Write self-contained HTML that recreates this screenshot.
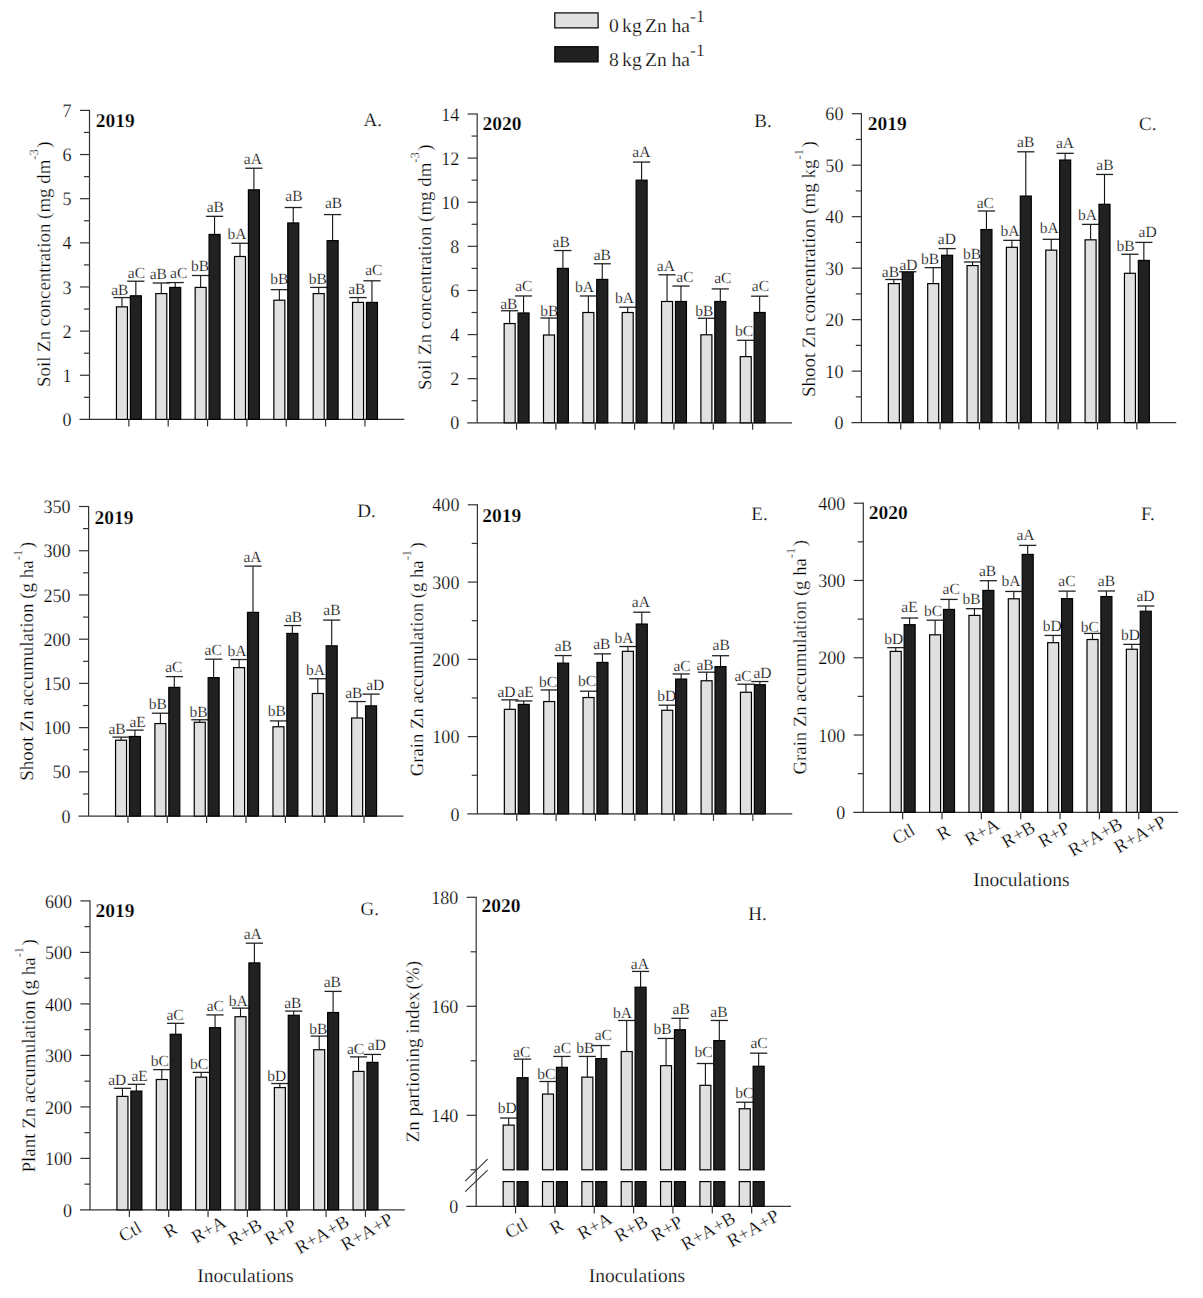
<!DOCTYPE html>
<html><head><meta charset="utf-8"><style>
html,body{margin:0;padding:0;background:#fff;}
body{width:1203px;height:1298px;overflow:hidden;}
svg{display:block;}
text{font-family:'Liberation Serif', serif;fill:#000;text-rendering:geometricPrecision;stroke:#fff;stroke-width:0.25px;paint-order:fill stroke;}
</style></head><body>
<svg width="1203" height="1298" viewBox="0 0 1203 1298">
<line x1="89.5" y1="109.8" x2="89.5" y2="419.4" stroke="#333" stroke-width="1.2"/>
<line x1="79.5" y1="419.4" x2="404.3" y2="419.4" stroke="#333" stroke-width="1.2"/>
<text transform="translate(71.5,426) scale(0.95,1)" text-anchor="end" font-size="19">0</text>
<line x1="83.9" y1="397.33" x2="89.5" y2="397.33" stroke="#333" stroke-width="1.2"/>
<line x1="79.9" y1="375.26" x2="89.5" y2="375.26" stroke="#333" stroke-width="1.2"/>
<text transform="translate(71.5,381.86) scale(0.95,1)" text-anchor="end" font-size="19">1</text>
<line x1="83.9" y1="353.19" x2="89.5" y2="353.19" stroke="#333" stroke-width="1.2"/>
<line x1="79.9" y1="331.11" x2="89.5" y2="331.11" stroke="#333" stroke-width="1.2"/>
<text transform="translate(71.5,337.71) scale(0.95,1)" text-anchor="end" font-size="19">2</text>
<line x1="83.9" y1="309.04" x2="89.5" y2="309.04" stroke="#333" stroke-width="1.2"/>
<line x1="79.9" y1="286.97" x2="89.5" y2="286.97" stroke="#333" stroke-width="1.2"/>
<text transform="translate(71.5,293.57) scale(0.95,1)" text-anchor="end" font-size="19">3</text>
<line x1="83.9" y1="264.9" x2="89.5" y2="264.9" stroke="#333" stroke-width="1.2"/>
<line x1="79.9" y1="242.83" x2="89.5" y2="242.83" stroke="#333" stroke-width="1.2"/>
<text transform="translate(71.5,249.43) scale(0.95,1)" text-anchor="end" font-size="19">4</text>
<line x1="83.9" y1="220.76" x2="89.5" y2="220.76" stroke="#333" stroke-width="1.2"/>
<line x1="79.9" y1="198.69" x2="89.5" y2="198.69" stroke="#333" stroke-width="1.2"/>
<text transform="translate(71.5,205.29) scale(0.95,1)" text-anchor="end" font-size="19">5</text>
<line x1="83.9" y1="176.61" x2="89.5" y2="176.61" stroke="#333" stroke-width="1.2"/>
<line x1="79.9" y1="154.54" x2="89.5" y2="154.54" stroke="#333" stroke-width="1.2"/>
<text transform="translate(71.5,161.14) scale(0.95,1)" text-anchor="end" font-size="19">6</text>
<line x1="83.9" y1="132.47" x2="89.5" y2="132.47" stroke="#333" stroke-width="1.2"/>
<line x1="79.9" y1="110.4" x2="89.5" y2="110.4" stroke="#333" stroke-width="1.2"/>
<text transform="translate(71.5,117) scale(0.95,1)" text-anchor="end" font-size="19">7</text>
<line x1="128.85" y1="419.4" x2="128.85" y2="426.4" stroke="#333" stroke-width="1.2"/>
<line x1="168.2" y1="419.4" x2="168.2" y2="426.4" stroke="#333" stroke-width="1.2"/>
<line x1="207.55" y1="419.4" x2="207.55" y2="426.4" stroke="#333" stroke-width="1.2"/>
<line x1="246.9" y1="419.4" x2="246.9" y2="426.4" stroke="#333" stroke-width="1.2"/>
<line x1="286.25" y1="419.4" x2="286.25" y2="426.4" stroke="#333" stroke-width="1.2"/>
<line x1="325.6" y1="419.4" x2="325.6" y2="426.4" stroke="#333" stroke-width="1.2"/>
<line x1="364.95" y1="419.4" x2="364.95" y2="426.4" stroke="#333" stroke-width="1.2"/>
<rect x="116.45" y="306.84" width="11.0" height="112.56" fill="#e0e0e0" stroke="#000" stroke-width="1.2"/><line x1="121.95" y1="306.84" x2="121.95" y2="297.57" stroke="#111" stroke-width="1.1"/><line x1="113.35" y1="297.57" x2="130.55" y2="297.57" stroke="#222" stroke-width="1.3"/><text x="119.85" y="294.57" text-anchor="middle" font-size="15.5">aB</text>
<rect x="155.8" y="293.59" width="11.0" height="125.81" fill="#e0e0e0" stroke="#000" stroke-width="1.2"/><line x1="161.3" y1="293.59" x2="161.3" y2="283" stroke="#111" stroke-width="1.1"/><line x1="152.7" y1="283" x2="169.9" y2="283" stroke="#222" stroke-width="1.3"/><text x="158.3" y="279" text-anchor="middle" font-size="15.5">aB</text>
<rect x="195.15" y="287.41" width="11.0" height="131.99" fill="#e0e0e0" stroke="#000" stroke-width="1.2"/><line x1="200.65" y1="287.41" x2="200.65" y2="275.49" stroke="#111" stroke-width="1.1"/><line x1="192.05" y1="275.49" x2="209.25" y2="275.49" stroke="#222" stroke-width="1.3"/><text x="200.15" y="270.69" text-anchor="middle" font-size="15.5">bB</text>
<rect x="234.5" y="256.51" width="11.0" height="162.89" fill="#e0e0e0" stroke="#000" stroke-width="1.2"/><line x1="240" y1="256.51" x2="240" y2="243.27" stroke="#111" stroke-width="1.1"/><line x1="231.4" y1="243.27" x2="248.6" y2="243.27" stroke="#222" stroke-width="1.3"/><text x="237.1" y="239.27" text-anchor="middle" font-size="15.5">bA</text>
<rect x="273.85" y="300.21" width="11.0" height="119.19" fill="#e0e0e0" stroke="#000" stroke-width="1.2"/><line x1="279.35" y1="300.21" x2="279.35" y2="289.62" stroke="#111" stroke-width="1.1"/><line x1="270.75" y1="289.62" x2="287.95" y2="289.62" stroke="#222" stroke-width="1.3"/><text x="279.35" y="284.22" text-anchor="middle" font-size="15.5">bB</text>
<rect x="313.2" y="293.59" width="11.0" height="125.81" fill="#e0e0e0" stroke="#000" stroke-width="1.2"/><line x1="318.7" y1="293.59" x2="318.7" y2="287.41" stroke="#111" stroke-width="1.1"/><line x1="310.1" y1="287.41" x2="327.3" y2="287.41" stroke="#222" stroke-width="1.3"/><text x="317.8" y="284.11" text-anchor="middle" font-size="15.5">bB</text>
<rect x="352.55" y="302.42" width="11.0" height="116.98" fill="#e0e0e0" stroke="#000" stroke-width="1.2"/><line x1="358.05" y1="302.42" x2="358.05" y2="297.57" stroke="#111" stroke-width="1.1"/><line x1="349.45" y1="297.57" x2="366.65" y2="297.57" stroke="#222" stroke-width="1.3"/><text x="356.85" y="293.57" text-anchor="middle" font-size="15.5">aB</text>
<rect x="130.35" y="295.8" width="11.0" height="123.6" fill="#212121" stroke="#000" stroke-width="1.2"/><line x1="135.85" y1="295.8" x2="135.85" y2="281.23" stroke="#111" stroke-width="1.1"/><line x1="127.25" y1="281.23" x2="144.45" y2="281.23" stroke="#222" stroke-width="1.3"/><text x="136.45" y="278.43" text-anchor="middle" font-size="15.5">aC</text>
<rect x="169.7" y="287.41" width="11.0" height="131.99" fill="#212121" stroke="#000" stroke-width="1.2"/><line x1="175.2" y1="287.41" x2="175.2" y2="282.56" stroke="#111" stroke-width="1.1"/><line x1="166.6" y1="282.56" x2="183.8" y2="282.56" stroke="#222" stroke-width="1.3"/><text x="178.7" y="277.76" text-anchor="middle" font-size="15.5">aC</text>
<rect x="209.05" y="234.44" width="11.0" height="184.96" fill="#212121" stroke="#000" stroke-width="1.2"/><line x1="214.55" y1="234.44" x2="214.55" y2="216.34" stroke="#111" stroke-width="1.1"/><line x1="205.95" y1="216.34" x2="223.15" y2="216.34" stroke="#222" stroke-width="1.3"/><text x="215.25" y="212.34" text-anchor="middle" font-size="15.5">aB</text>
<rect x="248.4" y="189.86" width="11.0" height="229.54" fill="#212121" stroke="#000" stroke-width="1.2"/><line x1="253.9" y1="189.86" x2="253.9" y2="168.23" stroke="#111" stroke-width="1.1"/><line x1="245.3" y1="168.23" x2="262.5" y2="168.23" stroke="#222" stroke-width="1.3"/><text x="252.9" y="164.23" text-anchor="middle" font-size="15.5">aA</text>
<rect x="287.75" y="222.96" width="11.0" height="196.44" fill="#212121" stroke="#000" stroke-width="1.2"/><line x1="293.25" y1="222.96" x2="293.25" y2="207.51" stroke="#111" stroke-width="1.1"/><line x1="284.65" y1="207.51" x2="301.85" y2="207.51" stroke="#222" stroke-width="1.3"/><text x="293.95" y="200.71" text-anchor="middle" font-size="15.5">aB</text>
<rect x="327.1" y="240.62" width="11.0" height="178.78" fill="#212121" stroke="#000" stroke-width="1.2"/><line x1="332.6" y1="240.62" x2="332.6" y2="214.58" stroke="#111" stroke-width="1.1"/><line x1="324" y1="214.58" x2="341.2" y2="214.58" stroke="#222" stroke-width="1.3"/><text x="333.5" y="208.18" text-anchor="middle" font-size="15.5">aB</text>
<rect x="366.45" y="302.42" width="11.0" height="116.98" fill="#212121" stroke="#000" stroke-width="1.2"/><line x1="371.95" y1="302.42" x2="371.95" y2="280.79" stroke="#111" stroke-width="1.1"/><line x1="363.35" y1="280.79" x2="380.55" y2="280.79" stroke="#222" stroke-width="1.3"/><text x="373.85" y="274.69" text-anchor="middle" font-size="15.5">aC</text>
<text x="95.7" y="126.8" font-weight="bold" font-size="19.5">2019</text>
<text x="363.6" y="126.2" font-size="19">A.</text>
<text transform="translate(50.0,387.0) rotate(-90)" x="0" y="0" font-size="18.88">Soil Zn concentration (mg dm<tspan font-size="12.5" dy="-11.7">-3</tspan><tspan dx="1.5" dy="11.7">)</tspan></text>
<line x1="477.2" y1="113.4" x2="477.2" y2="422.8" stroke="#333" stroke-width="1.2"/>
<line x1="467.2" y1="422.8" x2="792" y2="422.8" stroke="#333" stroke-width="1.2"/>
<text transform="translate(459.2,429.4) scale(0.95,1)" text-anchor="end" font-size="19">0</text>
<line x1="471.6" y1="400.74" x2="477.2" y2="400.74" stroke="#333" stroke-width="1.2"/>
<line x1="467.6" y1="378.69" x2="477.2" y2="378.69" stroke="#333" stroke-width="1.2"/>
<text transform="translate(459.2,385.29) scale(0.95,1)" text-anchor="end" font-size="19">2</text>
<line x1="471.6" y1="356.63" x2="477.2" y2="356.63" stroke="#333" stroke-width="1.2"/>
<line x1="467.6" y1="334.57" x2="477.2" y2="334.57" stroke="#333" stroke-width="1.2"/>
<text transform="translate(459.2,341.17) scale(0.95,1)" text-anchor="end" font-size="19">4</text>
<line x1="471.6" y1="312.51" x2="477.2" y2="312.51" stroke="#333" stroke-width="1.2"/>
<line x1="467.6" y1="290.46" x2="477.2" y2="290.46" stroke="#333" stroke-width="1.2"/>
<text transform="translate(459.2,297.06) scale(0.95,1)" text-anchor="end" font-size="19">6</text>
<line x1="471.6" y1="268.4" x2="477.2" y2="268.4" stroke="#333" stroke-width="1.2"/>
<line x1="467.6" y1="246.34" x2="477.2" y2="246.34" stroke="#333" stroke-width="1.2"/>
<text transform="translate(459.2,252.94) scale(0.95,1)" text-anchor="end" font-size="19">8</text>
<line x1="471.6" y1="224.29" x2="477.2" y2="224.29" stroke="#333" stroke-width="1.2"/>
<line x1="467.6" y1="202.23" x2="477.2" y2="202.23" stroke="#333" stroke-width="1.2"/>
<text transform="translate(459.2,208.83) scale(0.95,1)" text-anchor="end" font-size="19">10</text>
<line x1="471.6" y1="180.17" x2="477.2" y2="180.17" stroke="#333" stroke-width="1.2"/>
<line x1="467.6" y1="158.11" x2="477.2" y2="158.11" stroke="#333" stroke-width="1.2"/>
<text transform="translate(459.2,164.71) scale(0.95,1)" text-anchor="end" font-size="19">12</text>
<line x1="471.6" y1="136.06" x2="477.2" y2="136.06" stroke="#333" stroke-width="1.2"/>
<line x1="467.6" y1="114" x2="477.2" y2="114" stroke="#333" stroke-width="1.2"/>
<text transform="translate(459.2,120.6) scale(0.95,1)" text-anchor="end" font-size="19">14</text>
<line x1="516.55" y1="422.8" x2="516.55" y2="429.8" stroke="#333" stroke-width="1.2"/>
<line x1="555.9" y1="422.8" x2="555.9" y2="429.8" stroke="#333" stroke-width="1.2"/>
<line x1="595.25" y1="422.8" x2="595.25" y2="429.8" stroke="#333" stroke-width="1.2"/>
<line x1="634.6" y1="422.8" x2="634.6" y2="429.8" stroke="#333" stroke-width="1.2"/>
<line x1="673.95" y1="422.8" x2="673.95" y2="429.8" stroke="#333" stroke-width="1.2"/>
<line x1="713.3" y1="422.8" x2="713.3" y2="429.8" stroke="#333" stroke-width="1.2"/>
<line x1="752.65" y1="422.8" x2="752.65" y2="429.8" stroke="#333" stroke-width="1.2"/>
<rect x="504.15" y="323.54" width="11.0" height="99.26" fill="#e0e0e0" stroke="#000" stroke-width="1.2"/><line x1="509.65" y1="323.54" x2="509.65" y2="310.75" stroke="#111" stroke-width="1.1"/><line x1="501.05" y1="310.75" x2="518.25" y2="310.75" stroke="#222" stroke-width="1.3"/><text x="508.75" y="309.25" text-anchor="middle" font-size="15.5">aB</text>
<rect x="543.5" y="335.01" width="11.0" height="87.79" fill="#e0e0e0" stroke="#000" stroke-width="1.2"/><line x1="549" y1="335.01" x2="549" y2="318.03" stroke="#111" stroke-width="1.1"/><line x1="540.4" y1="318.03" x2="557.6" y2="318.03" stroke="#222" stroke-width="1.3"/><text x="549.4" y="316.23" text-anchor="middle" font-size="15.5">bB</text>
<rect x="582.85" y="312.51" width="11.0" height="110.29" fill="#e0e0e0" stroke="#000" stroke-width="1.2"/><line x1="588.35" y1="312.51" x2="588.35" y2="295.97" stroke="#111" stroke-width="1.1"/><line x1="579.75" y1="295.97" x2="596.95" y2="295.97" stroke="#222" stroke-width="1.3"/><text x="584.55" y="291.97" text-anchor="middle" font-size="15.5">bA</text>
<rect x="622.2" y="312.51" width="11.0" height="110.29" fill="#e0e0e0" stroke="#000" stroke-width="1.2"/><line x1="627.7" y1="312.51" x2="627.7" y2="307.22" stroke="#111" stroke-width="1.1"/><line x1="619.1" y1="307.22" x2="636.3" y2="307.22" stroke="#222" stroke-width="1.3"/><text x="624.6" y="303.22" text-anchor="middle" font-size="15.5">bA</text>
<rect x="661.55" y="301.49" width="11.0" height="121.31" fill="#e0e0e0" stroke="#000" stroke-width="1.2"/><line x1="667.05" y1="301.49" x2="667.05" y2="274.8" stroke="#111" stroke-width="1.1"/><line x1="658.45" y1="274.8" x2="675.65" y2="274.8" stroke="#222" stroke-width="1.3"/><text x="665.85" y="270.8" text-anchor="middle" font-size="15.5">aA</text>
<rect x="700.9" y="334.79" width="11.0" height="88.01" fill="#e0e0e0" stroke="#000" stroke-width="1.2"/><line x1="706.4" y1="334.79" x2="706.4" y2="318.25" stroke="#111" stroke-width="1.1"/><line x1="697.8" y1="318.25" x2="715" y2="318.25" stroke="#222" stroke-width="1.3"/><text x="704.2" y="316.45" text-anchor="middle" font-size="15.5">bB</text>
<rect x="740.25" y="356.63" width="11.0" height="66.17" fill="#e0e0e0" stroke="#000" stroke-width="1.2"/><line x1="745.75" y1="356.63" x2="745.75" y2="340.31" stroke="#111" stroke-width="1.1"/><line x1="737.15" y1="340.31" x2="754.35" y2="340.31" stroke="#222" stroke-width="1.3"/><text x="744.05" y="336.31" text-anchor="middle" font-size="15.5">bC</text>
<rect x="518.05" y="312.96" width="11.0" height="109.84" fill="#212121" stroke="#000" stroke-width="1.2"/><line x1="523.55" y1="312.96" x2="523.55" y2="295.97" stroke="#111" stroke-width="1.1"/><line x1="514.95" y1="295.97" x2="532.15" y2="295.97" stroke="#222" stroke-width="1.3"/><text x="523.75" y="291.47" text-anchor="middle" font-size="15.5">aC</text>
<rect x="557.4" y="268.4" width="11.0" height="154.4" fill="#212121" stroke="#000" stroke-width="1.2"/><line x1="562.9" y1="268.4" x2="562.9" y2="250.53" stroke="#111" stroke-width="1.1"/><line x1="554.3" y1="250.53" x2="571.5" y2="250.53" stroke="#222" stroke-width="1.3"/><text x="561.2" y="246.53" text-anchor="middle" font-size="15.5">aB</text>
<rect x="596.75" y="279.43" width="11.0" height="143.37" fill="#212121" stroke="#000" stroke-width="1.2"/><line x1="602.25" y1="279.43" x2="602.25" y2="263.77" stroke="#111" stroke-width="1.1"/><line x1="593.65" y1="263.77" x2="610.85" y2="263.77" stroke="#222" stroke-width="1.3"/><text x="602.35" y="259.77" text-anchor="middle" font-size="15.5">aB</text>
<rect x="636.1" y="180.17" width="11.0" height="242.63" fill="#212121" stroke="#000" stroke-width="1.2"/><line x1="641.6" y1="180.17" x2="641.6" y2="162.08" stroke="#111" stroke-width="1.1"/><line x1="633" y1="162.08" x2="650.2" y2="162.08" stroke="#222" stroke-width="1.3"/><text x="641.4" y="157.08" text-anchor="middle" font-size="15.5">aA</text>
<rect x="675.45" y="301.49" width="11.0" height="121.31" fill="#212121" stroke="#000" stroke-width="1.2"/><line x1="680.95" y1="301.49" x2="680.95" y2="286.05" stroke="#111" stroke-width="1.1"/><line x1="672.35" y1="286.05" x2="689.55" y2="286.05" stroke="#222" stroke-width="1.3"/><text x="684.95" y="282.05" text-anchor="middle" font-size="15.5">aC</text>
<rect x="714.8" y="301.49" width="11.0" height="121.31" fill="#212121" stroke="#000" stroke-width="1.2"/><line x1="720.3" y1="301.49" x2="720.3" y2="288.91" stroke="#111" stroke-width="1.1"/><line x1="711.7" y1="288.91" x2="728.9" y2="288.91" stroke="#222" stroke-width="1.3"/><text x="722.8" y="283.01" text-anchor="middle" font-size="15.5">aC</text>
<rect x="754.15" y="312.51" width="11.0" height="110.29" fill="#212121" stroke="#000" stroke-width="1.2"/><line x1="759.65" y1="312.51" x2="759.65" y2="296.19" stroke="#111" stroke-width="1.1"/><line x1="751.05" y1="296.19" x2="768.25" y2="296.19" stroke="#222" stroke-width="1.3"/><text x="760.45" y="290.69" text-anchor="middle" font-size="15.5">aC</text>
<text x="482.4" y="130.3" font-weight="bold" font-size="19.5">2020</text>
<text x="754.3000000000001" y="126.9" font-size="19">B.</text>
<text transform="translate(430.7,390.0) rotate(-90)" x="0" y="0" font-size="18.88">Soil Zn concentration (mg dm<tspan font-size="12.5" dy="-11.7">-3</tspan><tspan dx="1.5" dy="11.7">)</tspan></text>
<line x1="861.4" y1="113.1" x2="861.4" y2="422.6" stroke="#333" stroke-width="1.2"/>
<line x1="851.4" y1="422.6" x2="1176.2" y2="422.6" stroke="#333" stroke-width="1.2"/>
<text transform="translate(843.4,429.2) scale(0.95,1)" text-anchor="end" font-size="19">0</text>
<line x1="855.8" y1="396.86" x2="861.4" y2="396.86" stroke="#333" stroke-width="1.2"/>
<line x1="851.8" y1="371.12" x2="861.4" y2="371.12" stroke="#333" stroke-width="1.2"/>
<text transform="translate(843.4,377.72) scale(0.95,1)" text-anchor="end" font-size="19">10</text>
<line x1="855.8" y1="345.38" x2="861.4" y2="345.38" stroke="#333" stroke-width="1.2"/>
<line x1="851.8" y1="319.63" x2="861.4" y2="319.63" stroke="#333" stroke-width="1.2"/>
<text transform="translate(843.4,326.23) scale(0.95,1)" text-anchor="end" font-size="19">20</text>
<line x1="855.8" y1="293.89" x2="861.4" y2="293.89" stroke="#333" stroke-width="1.2"/>
<line x1="851.8" y1="268.15" x2="861.4" y2="268.15" stroke="#333" stroke-width="1.2"/>
<text transform="translate(843.4,274.75) scale(0.95,1)" text-anchor="end" font-size="19">30</text>
<line x1="855.8" y1="242.41" x2="861.4" y2="242.41" stroke="#333" stroke-width="1.2"/>
<line x1="851.8" y1="216.67" x2="861.4" y2="216.67" stroke="#333" stroke-width="1.2"/>
<text transform="translate(843.4,223.27) scale(0.95,1)" text-anchor="end" font-size="19">40</text>
<line x1="855.8" y1="190.92" x2="861.4" y2="190.92" stroke="#333" stroke-width="1.2"/>
<line x1="851.8" y1="165.18" x2="861.4" y2="165.18" stroke="#333" stroke-width="1.2"/>
<text transform="translate(843.4,171.78) scale(0.95,1)" text-anchor="end" font-size="19">50</text>
<line x1="855.8" y1="139.44" x2="861.4" y2="139.44" stroke="#333" stroke-width="1.2"/>
<line x1="851.8" y1="113.7" x2="861.4" y2="113.7" stroke="#333" stroke-width="1.2"/>
<text transform="translate(843.4,120.3) scale(0.95,1)" text-anchor="end" font-size="19">60</text>
<line x1="900.75" y1="422.6" x2="900.75" y2="429.6" stroke="#333" stroke-width="1.2"/>
<line x1="940.1" y1="422.6" x2="940.1" y2="429.6" stroke="#333" stroke-width="1.2"/>
<line x1="979.45" y1="422.6" x2="979.45" y2="429.6" stroke="#333" stroke-width="1.2"/>
<line x1="1018.8" y1="422.6" x2="1018.8" y2="429.6" stroke="#333" stroke-width="1.2"/>
<line x1="1058.15" y1="422.6" x2="1058.15" y2="429.6" stroke="#333" stroke-width="1.2"/>
<line x1="1097.5" y1="422.6" x2="1097.5" y2="429.6" stroke="#333" stroke-width="1.2"/>
<line x1="1136.85" y1="422.6" x2="1136.85" y2="429.6" stroke="#333" stroke-width="1.2"/>
<rect x="888.35" y="283.6" width="11.0" height="139" fill="#e0e0e0" stroke="#000" stroke-width="1.2"/><line x1="893.85" y1="283.6" x2="893.85" y2="279.48" stroke="#111" stroke-width="1.1"/><line x1="885.25" y1="279.48" x2="902.45" y2="279.48" stroke="#222" stroke-width="1.3"/><text x="890.45" y="276.68" text-anchor="middle" font-size="15.5">aB</text>
<rect x="927.7" y="283.6" width="11.0" height="139" fill="#e0e0e0" stroke="#000" stroke-width="1.2"/><line x1="933.2" y1="283.6" x2="933.2" y2="267.64" stroke="#111" stroke-width="1.1"/><line x1="924.6" y1="267.64" x2="941.8" y2="267.64" stroke="#222" stroke-width="1.3"/><text x="930" y="263.64" text-anchor="middle" font-size="15.5">bB</text>
<rect x="967.05" y="265.58" width="11.0" height="157.02" fill="#e0e0e0" stroke="#000" stroke-width="1.2"/><line x1="972.55" y1="265.58" x2="972.55" y2="261.97" stroke="#111" stroke-width="1.1"/><line x1="963.95" y1="261.97" x2="981.15" y2="261.97" stroke="#222" stroke-width="1.3"/><text x="971.95" y="258.67" text-anchor="middle" font-size="15.5">bB</text>
<rect x="1006.4" y="247.3" width="11.0" height="175.3" fill="#e0e0e0" stroke="#000" stroke-width="1.2"/><line x1="1011.9" y1="247.3" x2="1011.9" y2="240.35" stroke="#111" stroke-width="1.1"/><line x1="1003.3" y1="240.35" x2="1020.5" y2="240.35" stroke="#222" stroke-width="1.3"/><text x="1009.9" y="235.95" text-anchor="middle" font-size="15.5">bA</text>
<rect x="1045.75" y="250.13" width="11.0" height="172.47" fill="#e0e0e0" stroke="#000" stroke-width="1.2"/><line x1="1051.25" y1="250.13" x2="1051.25" y2="239.32" stroke="#111" stroke-width="1.1"/><line x1="1042.65" y1="239.32" x2="1059.85" y2="239.32" stroke="#222" stroke-width="1.3"/><text x="1049.25" y="232.52" text-anchor="middle" font-size="15.5">bA</text>
<rect x="1085.1" y="239.83" width="11.0" height="182.77" fill="#e0e0e0" stroke="#000" stroke-width="1.2"/><line x1="1090.6" y1="239.83" x2="1090.6" y2="224.39" stroke="#111" stroke-width="1.1"/><line x1="1082" y1="224.39" x2="1099.2" y2="224.39" stroke="#222" stroke-width="1.3"/><text x="1087.6" y="220.39" text-anchor="middle" font-size="15.5">bA</text>
<rect x="1124.45" y="273.3" width="11.0" height="149.3" fill="#e0e0e0" stroke="#000" stroke-width="1.2"/><line x1="1129.95" y1="273.3" x2="1129.95" y2="254.25" stroke="#111" stroke-width="1.1"/><line x1="1121.35" y1="254.25" x2="1138.55" y2="254.25" stroke="#222" stroke-width="1.3"/><text x="1125.65" y="250.95" text-anchor="middle" font-size="15.5">bB</text>
<rect x="902.25" y="272.27" width="11.0" height="150.33" fill="#212121" stroke="#000" stroke-width="1.2"/><line x1="907.75" y1="272.27" x2="907.75" y2="271.75" stroke="#111" stroke-width="1.1"/><line x1="899.15" y1="271.75" x2="916.35" y2="271.75" stroke="#222" stroke-width="1.3"/><text x="908.45" y="269.55" text-anchor="middle" font-size="15.5">aD</text>
<rect x="941.6" y="255.28" width="11.0" height="167.32" fill="#212121" stroke="#000" stroke-width="1.2"/><line x1="947.1" y1="255.28" x2="947.1" y2="248.59" stroke="#111" stroke-width="1.1"/><line x1="938.5" y1="248.59" x2="955.7" y2="248.59" stroke="#222" stroke-width="1.3"/><text x="946.8" y="243.89" text-anchor="middle" font-size="15.5">aD</text>
<rect x="980.95" y="229.54" width="11.0" height="193.06" fill="#212121" stroke="#000" stroke-width="1.2"/><line x1="986.45" y1="229.54" x2="986.45" y2="211" stroke="#111" stroke-width="1.1"/><line x1="977.85" y1="211" x2="995.05" y2="211" stroke="#222" stroke-width="1.3"/><text x="985.25" y="207.7" text-anchor="middle" font-size="15.5">aC</text>
<rect x="1020.3" y="196.07" width="11.0" height="226.53" fill="#212121" stroke="#000" stroke-width="1.2"/><line x1="1025.8" y1="196.07" x2="1025.8" y2="151.8" stroke="#111" stroke-width="1.1"/><line x1="1017.2" y1="151.8" x2="1034.4" y2="151.8" stroke="#222" stroke-width="1.3"/><text x="1025.7" y="147.3" text-anchor="middle" font-size="15.5">aB</text>
<rect x="1059.65" y="160.03" width="11.0" height="262.57" fill="#212121" stroke="#000" stroke-width="1.2"/><line x1="1065.15" y1="160.03" x2="1065.15" y2="153.34" stroke="#111" stroke-width="1.1"/><line x1="1056.55" y1="153.34" x2="1073.75" y2="153.34" stroke="#222" stroke-width="1.3"/><text x="1064.95" y="148.24" text-anchor="middle" font-size="15.5">aA</text>
<rect x="1099" y="204.31" width="11.0" height="218.29" fill="#212121" stroke="#000" stroke-width="1.2"/><line x1="1104.5" y1="204.31" x2="1104.5" y2="174.45" stroke="#111" stroke-width="1.1"/><line x1="1095.9" y1="174.45" x2="1113.1" y2="174.45" stroke="#222" stroke-width="1.3"/><text x="1104.9" y="170.05" text-anchor="middle" font-size="15.5">aB</text>
<rect x="1138.35" y="260.43" width="11.0" height="162.17" fill="#212121" stroke="#000" stroke-width="1.2"/><line x1="1143.85" y1="260.43" x2="1143.85" y2="242.41" stroke="#111" stroke-width="1.1"/><line x1="1135.25" y1="242.41" x2="1152.45" y2="242.41" stroke="#222" stroke-width="1.3"/><text x="1147.55" y="237.31" text-anchor="middle" font-size="15.5">aD</text>
<text x="867.7" y="129.9" font-weight="bold" font-size="19.5">2019</text>
<text x="1139.0" y="130.4" font-size="19">C.</text>
<text transform="translate(815.0,397.0) rotate(-90)" x="0" y="0" font-size="19">Shoot Zn concentration (mg kg<tspan font-size="12.5" dy="-11.7">-1</tspan><tspan dx="1.5" dy="11.7">)</tspan></text>
<line x1="88.6" y1="505.9" x2="88.6" y2="816.1" stroke="#333" stroke-width="1.2"/>
<line x1="78.6" y1="816.1" x2="403.4" y2="816.1" stroke="#333" stroke-width="1.2"/>
<text transform="translate(70.6,822.7) scale(0.95,1)" text-anchor="end" font-size="19">0</text>
<line x1="83" y1="793.99" x2="88.6" y2="793.99" stroke="#333" stroke-width="1.2"/>
<line x1="79" y1="771.87" x2="88.6" y2="771.87" stroke="#333" stroke-width="1.2"/>
<text transform="translate(70.6,778.47) scale(0.95,1)" text-anchor="end" font-size="19">50</text>
<line x1="83" y1="749.76" x2="88.6" y2="749.76" stroke="#333" stroke-width="1.2"/>
<line x1="79" y1="727.64" x2="88.6" y2="727.64" stroke="#333" stroke-width="1.2"/>
<text transform="translate(70.6,734.24) scale(0.95,1)" text-anchor="end" font-size="19">100</text>
<line x1="83" y1="705.53" x2="88.6" y2="705.53" stroke="#333" stroke-width="1.2"/>
<line x1="79" y1="683.41" x2="88.6" y2="683.41" stroke="#333" stroke-width="1.2"/>
<text transform="translate(70.6,690.01) scale(0.95,1)" text-anchor="end" font-size="19">150</text>
<line x1="83" y1="661.3" x2="88.6" y2="661.3" stroke="#333" stroke-width="1.2"/>
<line x1="79" y1="639.19" x2="88.6" y2="639.19" stroke="#333" stroke-width="1.2"/>
<text transform="translate(70.6,645.79) scale(0.95,1)" text-anchor="end" font-size="19">200</text>
<line x1="83" y1="617.07" x2="88.6" y2="617.07" stroke="#333" stroke-width="1.2"/>
<line x1="79" y1="594.96" x2="88.6" y2="594.96" stroke="#333" stroke-width="1.2"/>
<text transform="translate(70.6,601.56) scale(0.95,1)" text-anchor="end" font-size="19">250</text>
<line x1="83" y1="572.84" x2="88.6" y2="572.84" stroke="#333" stroke-width="1.2"/>
<line x1="79" y1="550.73" x2="88.6" y2="550.73" stroke="#333" stroke-width="1.2"/>
<text transform="translate(70.6,557.33) scale(0.95,1)" text-anchor="end" font-size="19">300</text>
<line x1="83" y1="528.61" x2="88.6" y2="528.61" stroke="#333" stroke-width="1.2"/>
<line x1="79" y1="506.5" x2="88.6" y2="506.5" stroke="#333" stroke-width="1.2"/>
<text transform="translate(70.6,513.1) scale(0.95,1)" text-anchor="end" font-size="19">350</text>
<line x1="127.95" y1="816.1" x2="127.95" y2="823.1" stroke="#333" stroke-width="1.2"/>
<line x1="167.3" y1="816.1" x2="167.3" y2="823.1" stroke="#333" stroke-width="1.2"/>
<line x1="206.65" y1="816.1" x2="206.65" y2="823.1" stroke="#333" stroke-width="1.2"/>
<line x1="246" y1="816.1" x2="246" y2="823.1" stroke="#333" stroke-width="1.2"/>
<line x1="285.35" y1="816.1" x2="285.35" y2="823.1" stroke="#333" stroke-width="1.2"/>
<line x1="324.7" y1="816.1" x2="324.7" y2="823.1" stroke="#333" stroke-width="1.2"/>
<line x1="364.05" y1="816.1" x2="364.05" y2="823.1" stroke="#333" stroke-width="1.2"/>
<rect x="115.55" y="740.2" width="11.0" height="75.9" fill="#e0e0e0" stroke="#000" stroke-width="1.2"/><line x1="121.05" y1="740.2" x2="121.05" y2="737.11" stroke="#111" stroke-width="1.1"/><line x1="112.45" y1="737.11" x2="129.65" y2="737.11" stroke="#222" stroke-width="1.3"/><text x="117.05" y="734.41" text-anchor="middle" font-size="15.5">aB</text>
<rect x="154.9" y="723.57" width="11.0" height="92.53" fill="#e0e0e0" stroke="#000" stroke-width="1.2"/><line x1="160.4" y1="723.57" x2="160.4" y2="713.22" stroke="#111" stroke-width="1.1"/><line x1="151.8" y1="713.22" x2="169" y2="713.22" stroke="#222" stroke-width="1.3"/><text x="157.8" y="709.22" text-anchor="middle" font-size="15.5">bB</text>
<rect x="194.25" y="722.25" width="11.0" height="93.85" fill="#e0e0e0" stroke="#000" stroke-width="1.2"/><line x1="199.75" y1="722.25" x2="199.75" y2="719.77" stroke="#111" stroke-width="1.1"/><line x1="191.15" y1="719.77" x2="208.35" y2="719.77" stroke="#222" stroke-width="1.3"/><text x="198.45" y="717.27" text-anchor="middle" font-size="15.5">bB</text>
<rect x="233.6" y="667.58" width="11.0" height="148.52" fill="#e0e0e0" stroke="#000" stroke-width="1.2"/><line x1="239.1" y1="667.58" x2="239.1" y2="659.53" stroke="#111" stroke-width="1.1"/><line x1="230.5" y1="659.53" x2="247.7" y2="659.53" stroke="#222" stroke-width="1.3"/><text x="237" y="656.23" text-anchor="middle" font-size="15.5">bA</text>
<rect x="272.95" y="726.76" width="11.0" height="89.34" fill="#e0e0e0" stroke="#000" stroke-width="1.2"/><line x1="278.45" y1="726.76" x2="278.45" y2="720.92" stroke="#111" stroke-width="1.1"/><line x1="269.85" y1="720.92" x2="287.05" y2="720.92" stroke="#222" stroke-width="1.3"/><text x="276.85" y="716.02" text-anchor="middle" font-size="15.5">bB</text>
<rect x="312.3" y="693.5" width="11.0" height="122.6" fill="#e0e0e0" stroke="#000" stroke-width="1.2"/><line x1="317.8" y1="693.5" x2="317.8" y2="678.73" stroke="#111" stroke-width="1.1"/><line x1="309.2" y1="678.73" x2="326.4" y2="678.73" stroke="#222" stroke-width="1.3"/><text x="315.5" y="674.73" text-anchor="middle" font-size="15.5">bA</text>
<rect x="351.65" y="718" width="11.0" height="98.1" fill="#e0e0e0" stroke="#000" stroke-width="1.2"/><line x1="357.15" y1="718" x2="357.15" y2="701.55" stroke="#111" stroke-width="1.1"/><line x1="348.55" y1="701.55" x2="365.75" y2="701.55" stroke="#222" stroke-width="1.3"/><text x="353.75" y="697.55" text-anchor="middle" font-size="15.5">aB</text>
<rect x="129.45" y="736.49" width="11.0" height="79.61" fill="#212121" stroke="#000" stroke-width="1.2"/><line x1="134.95" y1="736.49" x2="134.95" y2="730.12" stroke="#111" stroke-width="1.1"/><line x1="126.35" y1="730.12" x2="143.55" y2="730.12" stroke="#222" stroke-width="1.3"/><text x="137.65" y="727.42" text-anchor="middle" font-size="15.5">aE</text>
<rect x="168.8" y="687.39" width="11.0" height="128.71" fill="#212121" stroke="#000" stroke-width="1.2"/><line x1="174.3" y1="687.39" x2="174.3" y2="676.6" stroke="#111" stroke-width="1.1"/><line x1="165.7" y1="676.6" x2="182.9" y2="676.6" stroke="#222" stroke-width="1.3"/><text x="173.8" y="671.5" text-anchor="middle" font-size="15.5">aC</text>
<rect x="208.15" y="677.66" width="11.0" height="138.44" fill="#212121" stroke="#000" stroke-width="1.2"/><line x1="213.65" y1="677.66" x2="213.65" y2="659.18" stroke="#111" stroke-width="1.1"/><line x1="205.05" y1="659.18" x2="222.25" y2="659.18" stroke="#222" stroke-width="1.3"/><text x="213.15" y="654.78" text-anchor="middle" font-size="15.5">aC</text>
<rect x="247.5" y="612.38" width="11.0" height="203.72" fill="#212121" stroke="#000" stroke-width="1.2"/><line x1="253" y1="612.38" x2="253" y2="566.12" stroke="#111" stroke-width="1.1"/><line x1="244.4" y1="566.12" x2="261.6" y2="566.12" stroke="#222" stroke-width="1.3"/><text x="252.5" y="561.72" text-anchor="middle" font-size="15.5">aA</text>
<rect x="286.85" y="633.44" width="11.0" height="182.66" fill="#212121" stroke="#000" stroke-width="1.2"/><line x1="292.35" y1="633.44" x2="292.35" y2="625.56" stroke="#111" stroke-width="1.1"/><line x1="283.75" y1="625.56" x2="300.95" y2="625.56" stroke="#222" stroke-width="1.3"/><text x="293.55" y="621.56" text-anchor="middle" font-size="15.5">aB</text>
<rect x="326.2" y="645.82" width="11.0" height="170.28" fill="#212121" stroke="#000" stroke-width="1.2"/><line x1="331.7" y1="645.82" x2="331.7" y2="620.08" stroke="#111" stroke-width="1.1"/><line x1="323.1" y1="620.08" x2="340.3" y2="620.08" stroke="#222" stroke-width="1.3"/><text x="331.9" y="615.18" text-anchor="middle" font-size="15.5">aB</text>
<rect x="365.55" y="705.88" width="11.0" height="110.22" fill="#212121" stroke="#000" stroke-width="1.2"/><line x1="371.05" y1="705.88" x2="371.05" y2="694.12" stroke="#111" stroke-width="1.1"/><line x1="362.45" y1="694.12" x2="379.65" y2="694.12" stroke="#222" stroke-width="1.3"/><text x="375.25" y="690.12" text-anchor="middle" font-size="15.5">aD</text>
<text x="94.4" y="523.9" font-weight="bold" font-size="19.5">2019</text>
<text x="357.3" y="516.9" font-size="19">D.</text>
<text transform="translate(33.4,780.8) rotate(-90)" x="0" y="0" font-size="19">Shoot Zn accumulation (g ha<tspan font-size="12.5" dy="-11.7">-1</tspan><tspan dx="1.5" dy="11.7">)</tspan></text>
<line x1="477.4" y1="504.2" x2="477.4" y2="813.9" stroke="#333" stroke-width="1.2"/>
<line x1="467.4" y1="813.9" x2="792.2" y2="813.9" stroke="#333" stroke-width="1.2"/>
<text transform="translate(459.4,820.5) scale(0.95,1)" text-anchor="end" font-size="19">0</text>
<line x1="471.8" y1="775.26" x2="477.4" y2="775.26" stroke="#333" stroke-width="1.2"/>
<line x1="467.8" y1="736.62" x2="477.4" y2="736.62" stroke="#333" stroke-width="1.2"/>
<text transform="translate(459.4,743.23) scale(0.95,1)" text-anchor="end" font-size="19">100</text>
<line x1="471.8" y1="697.99" x2="477.4" y2="697.99" stroke="#333" stroke-width="1.2"/>
<line x1="467.8" y1="659.35" x2="477.4" y2="659.35" stroke="#333" stroke-width="1.2"/>
<text transform="translate(459.4,665.95) scale(0.95,1)" text-anchor="end" font-size="19">200</text>
<line x1="471.8" y1="620.71" x2="477.4" y2="620.71" stroke="#333" stroke-width="1.2"/>
<line x1="467.8" y1="582.08" x2="477.4" y2="582.08" stroke="#333" stroke-width="1.2"/>
<text transform="translate(459.4,588.68) scale(0.95,1)" text-anchor="end" font-size="19">300</text>
<line x1="471.8" y1="543.44" x2="477.4" y2="543.44" stroke="#333" stroke-width="1.2"/>
<line x1="467.8" y1="504.8" x2="477.4" y2="504.8" stroke="#333" stroke-width="1.2"/>
<text transform="translate(459.4,511.4) scale(0.95,1)" text-anchor="end" font-size="19">400</text>
<line x1="516.75" y1="813.9" x2="516.75" y2="820.9" stroke="#333" stroke-width="1.2"/>
<line x1="556.1" y1="813.9" x2="556.1" y2="820.9" stroke="#333" stroke-width="1.2"/>
<line x1="595.45" y1="813.9" x2="595.45" y2="820.9" stroke="#333" stroke-width="1.2"/>
<line x1="634.8" y1="813.9" x2="634.8" y2="820.9" stroke="#333" stroke-width="1.2"/>
<line x1="674.15" y1="813.9" x2="674.15" y2="820.9" stroke="#333" stroke-width="1.2"/>
<line x1="713.5" y1="813.9" x2="713.5" y2="820.9" stroke="#333" stroke-width="1.2"/>
<line x1="752.85" y1="813.9" x2="752.85" y2="820.9" stroke="#333" stroke-width="1.2"/>
<rect x="504.35" y="709.35" width="11.0" height="104.55" fill="#e0e0e0" stroke="#000" stroke-width="1.2"/><line x1="509.85" y1="709.35" x2="509.85" y2="699.84" stroke="#111" stroke-width="1.1"/><line x1="501.25" y1="699.84" x2="518.45" y2="699.84" stroke="#222" stroke-width="1.3"/><text x="506.45" y="696.54" text-anchor="middle" font-size="15.5">aD</text>
<rect x="543.7" y="701.54" width="11.0" height="112.36" fill="#e0e0e0" stroke="#000" stroke-width="1.2"/><line x1="549.2" y1="701.54" x2="549.2" y2="689.95" stroke="#111" stroke-width="1.1"/><line x1="540.6" y1="689.95" x2="557.8" y2="689.95" stroke="#222" stroke-width="1.3"/><text x="548.1" y="686.65" text-anchor="middle" font-size="15.5">bC</text>
<rect x="583.05" y="697.52" width="11.0" height="116.38" fill="#e0e0e0" stroke="#000" stroke-width="1.2"/><line x1="588.55" y1="697.52" x2="588.55" y2="691.19" stroke="#111" stroke-width="1.1"/><line x1="579.95" y1="691.19" x2="597.15" y2="691.19" stroke="#222" stroke-width="1.3"/><text x="587.05" y="686.49" text-anchor="middle" font-size="15.5">bC</text>
<rect x="622.4" y="651.31" width="11.0" height="162.59" fill="#e0e0e0" stroke="#000" stroke-width="1.2"/><line x1="627.9" y1="651.31" x2="627.9" y2="646.52" stroke="#111" stroke-width="1.1"/><line x1="619.3" y1="646.52" x2="636.5" y2="646.52" stroke="#222" stroke-width="1.3"/><text x="624.1" y="642.82" text-anchor="middle" font-size="15.5">bA</text>
<rect x="661.75" y="710.27" width="11.0" height="103.63" fill="#e0e0e0" stroke="#000" stroke-width="1.2"/><line x1="667.25" y1="710.27" x2="667.25" y2="705.17" stroke="#111" stroke-width="1.1"/><line x1="658.65" y1="705.17" x2="675.85" y2="705.17" stroke="#222" stroke-width="1.3"/><text x="666.85" y="700.77" text-anchor="middle" font-size="15.5">bD</text>
<rect x="701.1" y="680.76" width="11.0" height="133.14" fill="#e0e0e0" stroke="#000" stroke-width="1.2"/><line x1="706.6" y1="680.76" x2="706.6" y2="672.18" stroke="#111" stroke-width="1.1"/><line x1="698" y1="672.18" x2="715.2" y2="672.18" stroke="#222" stroke-width="1.3"/><text x="705.1" y="669.88" text-anchor="middle" font-size="15.5">aB</text>
<rect x="740.45" y="692.27" width="11.0" height="121.63" fill="#e0e0e0" stroke="#000" stroke-width="1.2"/><line x1="745.95" y1="692.27" x2="745.95" y2="684.23" stroke="#111" stroke-width="1.1"/><line x1="737.35" y1="684.23" x2="754.55" y2="684.23" stroke="#222" stroke-width="1.3"/><text x="743.05" y="680.63" text-anchor="middle" font-size="15.5">aC</text>
<rect x="518.25" y="704.4" width="11.0" height="109.5" fill="#212121" stroke="#000" stroke-width="1.2"/><line x1="523.75" y1="704.4" x2="523.75" y2="701" stroke="#111" stroke-width="1.1"/><line x1="515.15" y1="701" x2="532.35" y2="701" stroke="#222" stroke-width="1.3"/><text x="525.65" y="697" text-anchor="middle" font-size="15.5">aE</text>
<rect x="557.6" y="663.14" width="11.0" height="150.76" fill="#212121" stroke="#000" stroke-width="1.2"/><line x1="563.1" y1="663.14" x2="563.1" y2="655.56" stroke="#111" stroke-width="1.1"/><line x1="554.5" y1="655.56" x2="571.7" y2="655.56" stroke="#222" stroke-width="1.3"/><text x="563.3" y="650.86" text-anchor="middle" font-size="15.5">aB</text>
<rect x="596.95" y="662.44" width="11.0" height="151.46" fill="#212121" stroke="#000" stroke-width="1.2"/><line x1="602.45" y1="662.44" x2="602.45" y2="653.86" stroke="#111" stroke-width="1.1"/><line x1="593.85" y1="653.86" x2="611.05" y2="653.86" stroke="#222" stroke-width="1.3"/><text x="601.75" y="648.76" text-anchor="middle" font-size="15.5">aB</text>
<rect x="636.3" y="624.04" width="11.0" height="189.86" fill="#212121" stroke="#000" stroke-width="1.2"/><line x1="641.8" y1="624.04" x2="641.8" y2="612.21" stroke="#111" stroke-width="1.1"/><line x1="633.2" y1="612.21" x2="650.4" y2="612.21" stroke="#222" stroke-width="1.3"/><text x="640.8" y="607.31" text-anchor="middle" font-size="15.5">aA</text>
<rect x="675.65" y="679.06" width="11.0" height="134.84" fill="#212121" stroke="#000" stroke-width="1.2"/><line x1="681.15" y1="679.06" x2="681.15" y2="673.95" stroke="#111" stroke-width="1.1"/><line x1="672.55" y1="673.95" x2="689.75" y2="673.95" stroke="#222" stroke-width="1.3"/><text x="682.05" y="670.65" text-anchor="middle" font-size="15.5">aC</text>
<rect x="715" y="666.61" width="11.0" height="147.29" fill="#212121" stroke="#000" stroke-width="1.2"/><line x1="720.5" y1="666.61" x2="720.5" y2="655.72" stroke="#111" stroke-width="1.1"/><line x1="711.9" y1="655.72" x2="729.1" y2="655.72" stroke="#222" stroke-width="1.3"/><text x="721.2" y="650.02" text-anchor="middle" font-size="15.5">aB</text>
<rect x="754.35" y="684.7" width="11.0" height="129.2" fill="#212121" stroke="#000" stroke-width="1.2"/><line x1="759.85" y1="684.7" x2="759.85" y2="681.53" stroke="#111" stroke-width="1.1"/><line x1="751.25" y1="681.53" x2="768.45" y2="681.53" stroke="#222" stroke-width="1.3"/><text x="762.45" y="677.93" text-anchor="middle" font-size="15.5">aD</text>
<text x="482.3" y="521.7" font-weight="bold" font-size="19.5">2019</text>
<text x="751.3000000000001" y="519.7" font-size="19">E.</text>
<text transform="translate(422.6,776.2) rotate(-90)" x="0" y="0" font-size="18.7">Grain Zn accumulation (g ha<tspan font-size="12.5" dy="-11.7">-1</tspan><tspan dx="1.5" dy="11.7">)</tspan></text>
<line x1="863.3" y1="502.6" x2="863.3" y2="812.3" stroke="#333" stroke-width="1.2"/>
<line x1="853.3" y1="812.3" x2="1178.1" y2="812.3" stroke="#333" stroke-width="1.2"/>
<text transform="translate(845.3,818.9) scale(0.95,1)" text-anchor="end" font-size="19">0</text>
<line x1="857.7" y1="773.66" x2="863.3" y2="773.66" stroke="#333" stroke-width="1.2"/>
<line x1="853.7" y1="735.02" x2="863.3" y2="735.02" stroke="#333" stroke-width="1.2"/>
<text transform="translate(845.3,741.62) scale(0.95,1)" text-anchor="end" font-size="19">100</text>
<line x1="857.7" y1="696.39" x2="863.3" y2="696.39" stroke="#333" stroke-width="1.2"/>
<line x1="853.7" y1="657.75" x2="863.3" y2="657.75" stroke="#333" stroke-width="1.2"/>
<text transform="translate(845.3,664.35) scale(0.95,1)" text-anchor="end" font-size="19">200</text>
<line x1="857.7" y1="619.11" x2="863.3" y2="619.11" stroke="#333" stroke-width="1.2"/>
<line x1="853.7" y1="580.47" x2="863.3" y2="580.47" stroke="#333" stroke-width="1.2"/>
<text transform="translate(845.3,587.07) scale(0.95,1)" text-anchor="end" font-size="19">300</text>
<line x1="857.7" y1="541.84" x2="863.3" y2="541.84" stroke="#333" stroke-width="1.2"/>
<line x1="853.7" y1="503.2" x2="863.3" y2="503.2" stroke="#333" stroke-width="1.2"/>
<text transform="translate(845.3,509.8) scale(0.95,1)" text-anchor="end" font-size="19">400</text>
<line x1="902.65" y1="812.3" x2="902.65" y2="819.3" stroke="#333" stroke-width="1.2"/>
<line x1="942" y1="812.3" x2="942" y2="819.3" stroke="#333" stroke-width="1.2"/>
<line x1="981.35" y1="812.3" x2="981.35" y2="819.3" stroke="#333" stroke-width="1.2"/>
<line x1="1020.7" y1="812.3" x2="1020.7" y2="819.3" stroke="#333" stroke-width="1.2"/>
<line x1="1060.05" y1="812.3" x2="1060.05" y2="819.3" stroke="#333" stroke-width="1.2"/>
<line x1="1099.4" y1="812.3" x2="1099.4" y2="819.3" stroke="#333" stroke-width="1.2"/>
<line x1="1138.75" y1="812.3" x2="1138.75" y2="819.3" stroke="#333" stroke-width="1.2"/>
<rect x="890.25" y="651.41" width="11.0" height="160.89" fill="#e0e0e0" stroke="#000" stroke-width="1.2"/><line x1="895.75" y1="651.41" x2="895.75" y2="647.63" stroke="#111" stroke-width="1.1"/><line x1="887.15" y1="647.63" x2="904.35" y2="647.63" stroke="#222" stroke-width="1.3"/><text x="893.75" y="643.63" text-anchor="middle" font-size="15.5">bD</text>
<rect x="929.6" y="634.8" width="11.0" height="177.5" fill="#e0e0e0" stroke="#000" stroke-width="1.2"/><line x1="935.1" y1="634.8" x2="935.1" y2="620.19" stroke="#111" stroke-width="1.1"/><line x1="926.5" y1="620.19" x2="943.7" y2="620.19" stroke="#222" stroke-width="1.3"/><text x="933.1" y="616.49" text-anchor="middle" font-size="15.5">bC</text>
<rect x="968.95" y="615.4" width="11.0" height="196.9" fill="#e0e0e0" stroke="#000" stroke-width="1.2"/><line x1="974.45" y1="615.4" x2="974.45" y2="608.68" stroke="#111" stroke-width="1.1"/><line x1="965.85" y1="608.68" x2="983.05" y2="608.68" stroke="#222" stroke-width="1.3"/><text x="971.55" y="603.98" text-anchor="middle" font-size="15.5">bB</text>
<rect x="1008.3" y="598.79" width="11.0" height="213.51" fill="#e0e0e0" stroke="#000" stroke-width="1.2"/><line x1="1013.8" y1="598.79" x2="1013.8" y2="591.45" stroke="#111" stroke-width="1.1"/><line x1="1005.2" y1="591.45" x2="1022.4" y2="591.45" stroke="#222" stroke-width="1.3"/><text x="1011.1" y="586.35" text-anchor="middle" font-size="15.5">bA</text>
<rect x="1047.65" y="642.68" width="11.0" height="169.62" fill="#e0e0e0" stroke="#000" stroke-width="1.2"/><line x1="1053.15" y1="642.68" x2="1053.15" y2="635.42" stroke="#111" stroke-width="1.1"/><line x1="1044.55" y1="635.42" x2="1061.75" y2="635.42" stroke="#222" stroke-width="1.3"/><text x="1052.35" y="631.42" text-anchor="middle" font-size="15.5">bD</text>
<rect x="1087" y="639.51" width="11.0" height="172.79" fill="#e0e0e0" stroke="#000" stroke-width="1.2"/><line x1="1092.5" y1="639.51" x2="1092.5" y2="633.41" stroke="#111" stroke-width="1.1"/><line x1="1083.9" y1="633.41" x2="1101.1" y2="633.41" stroke="#222" stroke-width="1.3"/><text x="1089.8" y="631.51" text-anchor="middle" font-size="15.5">bC</text>
<rect x="1126.35" y="649.25" width="11.0" height="163.05" fill="#e0e0e0" stroke="#000" stroke-width="1.2"/><line x1="1131.85" y1="649.25" x2="1131.85" y2="644.38" stroke="#111" stroke-width="1.1"/><line x1="1123.25" y1="644.38" x2="1140.45" y2="644.38" stroke="#222" stroke-width="1.3"/><text x="1130.45" y="640.38" text-anchor="middle" font-size="15.5">bD</text>
<rect x="904.15" y="624.68" width="11.0" height="187.62" fill="#212121" stroke="#000" stroke-width="1.2"/><line x1="909.65" y1="624.68" x2="909.65" y2="618.03" stroke="#111" stroke-width="1.1"/><line x1="901.05" y1="618.03" x2="918.25" y2="618.03" stroke="#222" stroke-width="1.3"/><text x="909.55" y="612.33" text-anchor="middle" font-size="15.5">aE</text>
<rect x="943.5" y="609.45" width="11.0" height="202.85" fill="#212121" stroke="#000" stroke-width="1.2"/><line x1="949" y1="609.45" x2="949" y2="599.41" stroke="#111" stroke-width="1.1"/><line x1="940.4" y1="599.41" x2="957.6" y2="599.41" stroke="#222" stroke-width="1.3"/><text x="951.2" y="594.01" text-anchor="middle" font-size="15.5">aC</text>
<rect x="982.85" y="590.44" width="11.0" height="221.86" fill="#212121" stroke="#000" stroke-width="1.2"/><line x1="988.35" y1="590.44" x2="988.35" y2="580.71" stroke="#111" stroke-width="1.1"/><line x1="979.75" y1="580.71" x2="996.95" y2="580.71" stroke="#222" stroke-width="1.3"/><text x="987.55" y="576.01" text-anchor="middle" font-size="15.5">aB</text>
<rect x="1022.2" y="554.43" width="11.0" height="257.87" fill="#212121" stroke="#000" stroke-width="1.2"/><line x1="1027.7" y1="554.43" x2="1027.7" y2="545.39" stroke="#111" stroke-width="1.1"/><line x1="1019.1" y1="545.39" x2="1036.3" y2="545.39" stroke="#222" stroke-width="1.3"/><text x="1025.5" y="539.59" text-anchor="middle" font-size="15.5">aA</text>
<rect x="1061.55" y="598.63" width="11.0" height="213.67" fill="#212121" stroke="#000" stroke-width="1.2"/><line x1="1067.05" y1="598.63" x2="1067.05" y2="591.14" stroke="#111" stroke-width="1.1"/><line x1="1058.45" y1="591.14" x2="1075.65" y2="591.14" stroke="#222" stroke-width="1.3"/><text x="1066.95" y="586.04" text-anchor="middle" font-size="15.5">aC</text>
<rect x="1100.9" y="596.55" width="11.0" height="215.75" fill="#212121" stroke="#000" stroke-width="1.2"/><line x1="1106.4" y1="596.55" x2="1106.4" y2="590.98" stroke="#111" stroke-width="1.1"/><line x1="1097.8" y1="590.98" x2="1115" y2="590.98" stroke="#222" stroke-width="1.3"/><text x="1106.4" y="586.28" text-anchor="middle" font-size="15.5">aB</text>
<rect x="1140.25" y="611.23" width="11.0" height="201.07" fill="#212121" stroke="#000" stroke-width="1.2"/><line x1="1145.75" y1="611.23" x2="1145.75" y2="605.98" stroke="#111" stroke-width="1.1"/><line x1="1137.15" y1="605.98" x2="1154.35" y2="605.98" stroke="#222" stroke-width="1.3"/><text x="1145.45" y="600.98" text-anchor="middle" font-size="15.5">aD</text>
<text x="868.8" y="518.9" font-weight="bold" font-size="19.5">2020</text>
<text x="1141.0" y="520.4" font-size="19">F.</text>
<text transform="translate(806.3,774.4) rotate(-90)" x="0" y="0" font-size="18.73">Grain Zn accumulation (g ha<tspan font-size="12.5" dy="-11.7">-1</tspan><tspan dx="1.5" dy="11.7">)</tspan></text>
<text transform="translate(903.45,834.1) rotate(-30)" x="0" y="6" text-anchor="middle" font-size="18.5">Ctl</text>
<text transform="translate(943.6,832.6) rotate(-30)" x="0" y="6" text-anchor="middle" font-size="18.5">R</text>
<text transform="translate(981.85,832) rotate(-30)" x="0" y="6" text-anchor="middle" font-size="18.5">R+A</text>
<text transform="translate(1018.2,834.5) rotate(-30)" x="0" y="6" text-anchor="middle" font-size="18.5">R+B</text>
<text transform="translate(1053.95,834.5) rotate(-30)" x="0" y="6" text-anchor="middle" font-size="18.5">R+P</text>
<text transform="translate(1095.2,837) rotate(-30)" x="0" y="6" text-anchor="middle" font-size="18.5">R+A+B</text>
<text transform="translate(1140.15,834.3) rotate(-30)" x="0" y="6" text-anchor="middle" font-size="18.5">R+A+P</text>
<text x="973.2" y="885.5" font-size="19.5">Inoculations</text>
<line x1="90.0" y1="900.3" x2="90.0" y2="1209.9" stroke="#333" stroke-width="1.2"/>
<line x1="80" y1="1209.9" x2="404.8" y2="1209.9" stroke="#333" stroke-width="1.2"/>
<text transform="translate(72,1216.5) scale(0.95,1)" text-anchor="end" font-size="19">0</text>
<line x1="84.4" y1="1184.15" x2="90.0" y2="1184.15" stroke="#333" stroke-width="1.2"/>
<line x1="80.4" y1="1158.4" x2="90.0" y2="1158.4" stroke="#333" stroke-width="1.2"/>
<text transform="translate(72,1165) scale(0.95,1)" text-anchor="end" font-size="19">100</text>
<line x1="84.4" y1="1132.65" x2="90.0" y2="1132.65" stroke="#333" stroke-width="1.2"/>
<line x1="80.4" y1="1106.9" x2="90.0" y2="1106.9" stroke="#333" stroke-width="1.2"/>
<text transform="translate(72,1113.5) scale(0.95,1)" text-anchor="end" font-size="19">200</text>
<line x1="84.4" y1="1081.15" x2="90.0" y2="1081.15" stroke="#333" stroke-width="1.2"/>
<line x1="80.4" y1="1055.4" x2="90.0" y2="1055.4" stroke="#333" stroke-width="1.2"/>
<text transform="translate(72,1062) scale(0.95,1)" text-anchor="end" font-size="19">300</text>
<line x1="84.4" y1="1029.65" x2="90.0" y2="1029.65" stroke="#333" stroke-width="1.2"/>
<line x1="80.4" y1="1003.9" x2="90.0" y2="1003.9" stroke="#333" stroke-width="1.2"/>
<text transform="translate(72,1010.5) scale(0.95,1)" text-anchor="end" font-size="19">400</text>
<line x1="84.4" y1="978.15" x2="90.0" y2="978.15" stroke="#333" stroke-width="1.2"/>
<line x1="80.4" y1="952.4" x2="90.0" y2="952.4" stroke="#333" stroke-width="1.2"/>
<text transform="translate(72,959) scale(0.95,1)" text-anchor="end" font-size="19">500</text>
<line x1="84.4" y1="926.65" x2="90.0" y2="926.65" stroke="#333" stroke-width="1.2"/>
<line x1="80.4" y1="900.9" x2="90.0" y2="900.9" stroke="#333" stroke-width="1.2"/>
<text transform="translate(72,907.5) scale(0.95,1)" text-anchor="end" font-size="19">600</text>
<line x1="129.35" y1="1209.9" x2="129.35" y2="1216.9" stroke="#333" stroke-width="1.2"/>
<line x1="168.7" y1="1209.9" x2="168.7" y2="1216.9" stroke="#333" stroke-width="1.2"/>
<line x1="208.05" y1="1209.9" x2="208.05" y2="1216.9" stroke="#333" stroke-width="1.2"/>
<line x1="247.4" y1="1209.9" x2="247.4" y2="1216.9" stroke="#333" stroke-width="1.2"/>
<line x1="286.75" y1="1209.9" x2="286.75" y2="1216.9" stroke="#333" stroke-width="1.2"/>
<line x1="326.1" y1="1209.9" x2="326.1" y2="1216.9" stroke="#333" stroke-width="1.2"/>
<line x1="365.45" y1="1209.9" x2="365.45" y2="1216.9" stroke="#333" stroke-width="1.2"/>
<rect x="116.95" y="1096.39" width="11.0" height="113.51" fill="#e0e0e0" stroke="#000" stroke-width="1.2"/><line x1="122.45" y1="1096.39" x2="122.45" y2="1088.31" stroke="#111" stroke-width="1.1"/><line x1="113.85" y1="1088.31" x2="131.05" y2="1088.31" stroke="#222" stroke-width="1.3"/><text x="117.25" y="1085.31" text-anchor="middle" font-size="15.5">aD</text>
<rect x="156.3" y="1079.5" width="11.0" height="130.4" fill="#e0e0e0" stroke="#000" stroke-width="1.2"/><line x1="161.8" y1="1079.5" x2="161.8" y2="1069.61" stroke="#111" stroke-width="1.1"/><line x1="153.2" y1="1069.61" x2="170.4" y2="1069.61" stroke="#222" stroke-width="1.3"/><text x="159.9" y="1065.61" text-anchor="middle" font-size="15.5">bC</text>
<rect x="195.65" y="1077.18" width="11.0" height="132.72" fill="#e0e0e0" stroke="#000" stroke-width="1.2"/><line x1="201.15" y1="1077.18" x2="201.15" y2="1072.39" stroke="#111" stroke-width="1.1"/><line x1="192.55" y1="1072.39" x2="209.75" y2="1072.39" stroke="#222" stroke-width="1.3"/><text x="199.15" y="1069.49" text-anchor="middle" font-size="15.5">bC</text>
<rect x="235" y="1016.72" width="11.0" height="193.18" fill="#e0e0e0" stroke="#000" stroke-width="1.2"/><line x1="240.5" y1="1016.72" x2="240.5" y2="1008.12" stroke="#111" stroke-width="1.1"/><line x1="231.9" y1="1008.12" x2="249.1" y2="1008.12" stroke="#222" stroke-width="1.3"/><text x="238.3" y="1005.52" text-anchor="middle" font-size="15.5">bA</text>
<rect x="274.35" y="1087.59" width="11.0" height="122.31" fill="#e0e0e0" stroke="#000" stroke-width="1.2"/><line x1="279.85" y1="1087.59" x2="279.85" y2="1083.52" stroke="#111" stroke-width="1.1"/><line x1="271.25" y1="1083.52" x2="288.45" y2="1083.52" stroke="#222" stroke-width="1.3"/><text x="276.85" y="1080.92" text-anchor="middle" font-size="15.5">bD</text>
<rect x="313.7" y="1049.74" width="11.0" height="160.16" fill="#e0e0e0" stroke="#000" stroke-width="1.2"/><line x1="319.2" y1="1049.74" x2="319.2" y2="1036.09" stroke="#111" stroke-width="1.1"/><line x1="310.6" y1="1036.09" x2="327.8" y2="1036.09" stroke="#222" stroke-width="1.3"/><text x="318.2" y="1034.19" text-anchor="middle" font-size="15.5">bB</text>
<rect x="353.05" y="1071.42" width="11.0" height="138.48" fill="#e0e0e0" stroke="#000" stroke-width="1.2"/><line x1="358.55" y1="1071.42" x2="358.55" y2="1056.89" stroke="#111" stroke-width="1.1"/><line x1="349.95" y1="1056.89" x2="367.15" y2="1056.89" stroke="#222" stroke-width="1.3"/><text x="355.55" y="1053.59" text-anchor="middle" font-size="15.5">aC</text>
<rect x="130.85" y="1091.09" width="11.0" height="118.81" fill="#212121" stroke="#000" stroke-width="1.2"/><line x1="136.35" y1="1091.09" x2="136.35" y2="1084.29" stroke="#111" stroke-width="1.1"/><line x1="127.75" y1="1084.29" x2="144.95" y2="1084.29" stroke="#222" stroke-width="1.3"/><text x="139.65" y="1080.99" text-anchor="middle" font-size="15.5">aE</text>
<rect x="170.2" y="1034.29" width="11.0" height="175.62" fill="#212121" stroke="#000" stroke-width="1.2"/><line x1="175.7" y1="1034.29" x2="175.7" y2="1023.32" stroke="#111" stroke-width="1.1"/><line x1="167.1" y1="1023.32" x2="184.3" y2="1023.32" stroke="#222" stroke-width="1.3"/><text x="175" y="1020.32" text-anchor="middle" font-size="15.5">aC</text>
<rect x="209.55" y="1027.69" width="11.0" height="182.21" fill="#212121" stroke="#000" stroke-width="1.2"/><line x1="215.05" y1="1027.69" x2="215.05" y2="1014.92" stroke="#111" stroke-width="1.1"/><line x1="206.45" y1="1014.92" x2="223.65" y2="1014.92" stroke="#222" stroke-width="1.3"/><text x="215.35" y="1010.92" text-anchor="middle" font-size="15.5">aC</text>
<rect x="248.9" y="962.91" width="11.0" height="246.99" fill="#212121" stroke="#000" stroke-width="1.2"/><line x1="254.4" y1="962.91" x2="254.4" y2="943.18" stroke="#111" stroke-width="1.1"/><line x1="245.8" y1="943.18" x2="263" y2="943.18" stroke="#222" stroke-width="1.3"/><text x="252.7" y="939.18" text-anchor="middle" font-size="15.5">aA</text>
<rect x="288.25" y="1015.28" width="11.0" height="194.62" fill="#212121" stroke="#000" stroke-width="1.2"/><line x1="293.75" y1="1015.28" x2="293.75" y2="1011.11" stroke="#111" stroke-width="1.1"/><line x1="285.15" y1="1011.11" x2="302.35" y2="1011.11" stroke="#222" stroke-width="1.3"/><text x="292.85" y="1007.81" text-anchor="middle" font-size="15.5">aB</text>
<rect x="327.6" y="1012.5" width="11.0" height="197.4" fill="#212121" stroke="#000" stroke-width="1.2"/><line x1="333.1" y1="1012.5" x2="333.1" y2="991.39" stroke="#111" stroke-width="1.1"/><line x1="324.5" y1="991.39" x2="341.7" y2="991.39" stroke="#222" stroke-width="1.3"/><text x="332.3" y="987.39" text-anchor="middle" font-size="15.5">aB</text>
<rect x="366.95" y="1062.4" width="11.0" height="147.5" fill="#212121" stroke="#000" stroke-width="1.2"/><line x1="372.45" y1="1062.4" x2="372.45" y2="1054.42" stroke="#111" stroke-width="1.1"/><line x1="363.85" y1="1054.42" x2="381.05" y2="1054.42" stroke="#222" stroke-width="1.3"/><text x="376.85" y="1050.42" text-anchor="middle" font-size="15.5">aD</text>
<text x="95.4" y="917.4" font-weight="bold" font-size="19.5">2019</text>
<text x="360.5" y="915.2" font-size="19">G.</text>
<text transform="translate(34.6,1172.6) rotate(-90)" x="0" y="0" font-size="19">Plant Zn accumulation (g ha<tspan font-size="12.5" dy="-11.7">-1</tspan><tspan dx="1.5" dy="11.7">)</tspan></text>
<text transform="translate(130.15,1231.7) rotate(-30)" x="0" y="6" text-anchor="middle" font-size="18.5">Ctl</text>
<text transform="translate(170.3,1230.2) rotate(-30)" x="0" y="6" text-anchor="middle" font-size="18.5">R</text>
<text transform="translate(208.55,1229.6) rotate(-30)" x="0" y="6" text-anchor="middle" font-size="18.5">R+A</text>
<text transform="translate(244.9,1232.1) rotate(-30)" x="0" y="6" text-anchor="middle" font-size="18.5">R+B</text>
<text transform="translate(280.65,1232.1) rotate(-30)" x="0" y="6" text-anchor="middle" font-size="18.5">R+P</text>
<text transform="translate(321.9,1234.6) rotate(-30)" x="0" y="6" text-anchor="middle" font-size="18.5">R+A+B</text>
<text transform="translate(366.85,1231.9) rotate(-30)" x="0" y="6" text-anchor="middle" font-size="18.5">R+A+P</text>
<text x="197.3" y="1282.4" font-size="19.5">Inoculations</text>
<line x1="476.2" y1="896.7" x2="476.2" y2="1206.4" stroke="#333" stroke-width="1.2"/>
<line x1="466.2" y1="1206.4" x2="791" y2="1206.4" stroke="#333" stroke-width="1.2"/>
<line x1="466.6" y1="897.3" x2="476.2" y2="897.3" stroke="#333" stroke-width="1.2"/>
<text transform="translate(458.2,903.9) scale(0.95,1)" text-anchor="end" font-size="19">180</text>
<line x1="466.6" y1="1006.3" x2="476.2" y2="1006.3" stroke="#333" stroke-width="1.2"/>
<text transform="translate(458.2,1012.9) scale(0.95,1)" text-anchor="end" font-size="19">160</text>
<line x1="466.6" y1="1115.3" x2="476.2" y2="1115.3" stroke="#333" stroke-width="1.2"/>
<text transform="translate(458.2,1121.9) scale(0.95,1)" text-anchor="end" font-size="19">140</text>
<line x1="470.6" y1="951.8" x2="476.2" y2="951.8" stroke="#333" stroke-width="1.2"/>
<line x1="470.6" y1="1060.8" x2="476.2" y2="1060.8" stroke="#333" stroke-width="1.2"/>
<line x1="470.6" y1="1169.8" x2="476.2" y2="1169.8" stroke="#333" stroke-width="1.2"/>
<text transform="translate(458.2,1213) scale(0.95,1)" text-anchor="end" font-size="19">0</text>
<line x1="465.2" y1="1181.1" x2="487.6" y2="1159.1" stroke="#333" stroke-width="1.1"/>
<line x1="465.2" y1="1191.7" x2="487.6" y2="1170.1" stroke="#333" stroke-width="1.1"/>
<line x1="515.55" y1="1206.4" x2="515.55" y2="1213.4" stroke="#333" stroke-width="1.2"/>
<line x1="554.9" y1="1206.4" x2="554.9" y2="1213.4" stroke="#333" stroke-width="1.2"/>
<line x1="594.25" y1="1206.4" x2="594.25" y2="1213.4" stroke="#333" stroke-width="1.2"/>
<line x1="633.6" y1="1206.4" x2="633.6" y2="1213.4" stroke="#333" stroke-width="1.2"/>
<line x1="672.95" y1="1206.4" x2="672.95" y2="1213.4" stroke="#333" stroke-width="1.2"/>
<line x1="712.3" y1="1206.4" x2="712.3" y2="1213.4" stroke="#333" stroke-width="1.2"/>
<line x1="751.65" y1="1206.4" x2="751.65" y2="1213.4" stroke="#333" stroke-width="1.2"/>
<rect x="503.15" y="1125.11" width="11.0" height="44.69" fill="#e0e0e0" stroke="#000" stroke-width="1.2"/><rect x="503.15" y="1181.6" width="11.0" height="24.8" fill="#e0e0e0" stroke="#000" stroke-width="1.2"/><line x1="508.65" y1="1125.11" x2="508.65" y2="1118.02" stroke="#111" stroke-width="1.1"/><line x1="500.05" y1="1118.02" x2="517.25" y2="1118.02" stroke="#222" stroke-width="1.3"/><text x="507.25" y="1113.32" text-anchor="middle" font-size="15.5">bD</text>
<rect x="542.5" y="1094.04" width="11.0" height="75.76" fill="#e0e0e0" stroke="#000" stroke-width="1.2"/><rect x="542.5" y="1181.6" width="11.0" height="24.8" fill="#e0e0e0" stroke="#000" stroke-width="1.2"/><line x1="548" y1="1094.04" x2="548" y2="1081.51" stroke="#111" stroke-width="1.1"/><line x1="539.4" y1="1081.51" x2="556.6" y2="1081.51" stroke="#222" stroke-width="1.3"/><text x="546.2" y="1078.51" text-anchor="middle" font-size="15.5">bC</text>
<rect x="581.85" y="1077.15" width="11.0" height="92.65" fill="#e0e0e0" stroke="#000" stroke-width="1.2"/><rect x="581.85" y="1181.6" width="11.0" height="24.8" fill="#e0e0e0" stroke="#000" stroke-width="1.2"/><line x1="587.35" y1="1077.15" x2="587.35" y2="1056.44" stroke="#111" stroke-width="1.1"/><line x1="578.75" y1="1056.44" x2="595.95" y2="1056.44" stroke="#222" stroke-width="1.3"/><text x="585.35" y="1053.14" text-anchor="middle" font-size="15.5">bB</text>
<rect x="621.2" y="1051.54" width="11.0" height="118.26" fill="#e0e0e0" stroke="#000" stroke-width="1.2"/><rect x="621.2" y="1181.6" width="11.0" height="24.8" fill="#e0e0e0" stroke="#000" stroke-width="1.2"/><line x1="626.7" y1="1051.54" x2="626.7" y2="1020.47" stroke="#111" stroke-width="1.1"/><line x1="618.1" y1="1020.47" x2="635.3" y2="1020.47" stroke="#222" stroke-width="1.3"/><text x="622.5" y="1017.57" text-anchor="middle" font-size="15.5">bA</text>
<rect x="660.55" y="1065.7" width="11.0" height="104.1" fill="#e0e0e0" stroke="#000" stroke-width="1.2"/><rect x="660.55" y="1181.6" width="11.0" height="24.8" fill="#e0e0e0" stroke="#000" stroke-width="1.2"/><line x1="666.05" y1="1065.7" x2="666.05" y2="1038.45" stroke="#111" stroke-width="1.1"/><line x1="657.45" y1="1038.45" x2="674.65" y2="1038.45" stroke="#222" stroke-width="1.3"/><text x="662.55" y="1034.45" text-anchor="middle" font-size="15.5">bB</text>
<rect x="699.9" y="1085.33" width="11.0" height="84.47" fill="#e0e0e0" stroke="#000" stroke-width="1.2"/><rect x="699.9" y="1181.6" width="11.0" height="24.8" fill="#e0e0e0" stroke="#000" stroke-width="1.2"/><line x1="705.4" y1="1085.33" x2="705.4" y2="1063.52" stroke="#111" stroke-width="1.1"/><line x1="696.8" y1="1063.52" x2="714" y2="1063.52" stroke="#222" stroke-width="1.3"/><text x="703.6" y="1057.42" text-anchor="middle" font-size="15.5">bC</text>
<rect x="739.25" y="1108.76" width="11.0" height="61.04" fill="#e0e0e0" stroke="#000" stroke-width="1.2"/><rect x="739.25" y="1181.6" width="11.0" height="24.8" fill="#e0e0e0" stroke="#000" stroke-width="1.2"/><line x1="744.75" y1="1108.76" x2="744.75" y2="1102.22" stroke="#111" stroke-width="1.1"/><line x1="736.15" y1="1102.22" x2="753.35" y2="1102.22" stroke="#222" stroke-width="1.3"/><text x="744.25" y="1098.22" text-anchor="middle" font-size="15.5">bC</text>
<rect x="517.05" y="1077.69" width="11.0" height="92.11" fill="#212121" stroke="#000" stroke-width="1.2"/><rect x="517.05" y="1181.6" width="11.0" height="24.8" fill="#212121" stroke="#000" stroke-width="1.2"/><line x1="522.55" y1="1077.69" x2="522.55" y2="1059.16" stroke="#111" stroke-width="1.1"/><line x1="513.95" y1="1059.16" x2="531.15" y2="1059.16" stroke="#222" stroke-width="1.3"/><text x="521.65" y="1056.87" text-anchor="middle" font-size="15.5">aC</text>
<rect x="556.4" y="1067.34" width="11.0" height="102.46" fill="#212121" stroke="#000" stroke-width="1.2"/><rect x="556.4" y="1181.6" width="11.0" height="24.8" fill="#212121" stroke="#000" stroke-width="1.2"/><line x1="561.9" y1="1067.34" x2="561.9" y2="1056.44" stroke="#111" stroke-width="1.1"/><line x1="553.3" y1="1056.44" x2="570.5" y2="1056.44" stroke="#222" stroke-width="1.3"/><text x="562.4" y="1053.14" text-anchor="middle" font-size="15.5">aC</text>
<rect x="595.75" y="1058.62" width="11.0" height="111.18" fill="#212121" stroke="#000" stroke-width="1.2"/><rect x="595.75" y="1181.6" width="11.0" height="24.8" fill="#212121" stroke="#000" stroke-width="1.2"/><line x1="601.25" y1="1058.62" x2="601.25" y2="1045.54" stroke="#111" stroke-width="1.1"/><line x1="592.65" y1="1045.54" x2="609.85" y2="1045.54" stroke="#222" stroke-width="1.3"/><text x="603.25" y="1040.44" text-anchor="middle" font-size="15.5">aC</text>
<rect x="635.1" y="987.22" width="11.0" height="182.58" fill="#212121" stroke="#000" stroke-width="1.2"/><rect x="635.1" y="1181.6" width="11.0" height="24.8" fill="#212121" stroke="#000" stroke-width="1.2"/><line x1="640.6" y1="987.22" x2="640.6" y2="971.42" stroke="#111" stroke-width="1.1"/><line x1="632" y1="971.42" x2="649.2" y2="971.42" stroke="#222" stroke-width="1.3"/><text x="639.8" y="969.42" text-anchor="middle" font-size="15.5">aA</text>
<rect x="674.45" y="1029.74" width="11.0" height="140.06" fill="#212121" stroke="#000" stroke-width="1.2"/><rect x="674.45" y="1181.6" width="11.0" height="24.8" fill="#212121" stroke="#000" stroke-width="1.2"/><line x1="679.95" y1="1029.74" x2="679.95" y2="1018.29" stroke="#111" stroke-width="1.1"/><line x1="671.35" y1="1018.29" x2="688.55" y2="1018.29" stroke="#222" stroke-width="1.3"/><text x="681.15" y="1014.29" text-anchor="middle" font-size="15.5">aB</text>
<rect x="713.8" y="1040.63" width="11.0" height="129.16" fill="#212121" stroke="#000" stroke-width="1.2"/><rect x="713.8" y="1181.6" width="11.0" height="24.8" fill="#212121" stroke="#000" stroke-width="1.2"/><line x1="719.3" y1="1040.63" x2="719.3" y2="1020.47" stroke="#111" stroke-width="1.1"/><line x1="710.7" y1="1020.47" x2="727.9" y2="1020.47" stroke="#222" stroke-width="1.3"/><text x="718.9" y="1017.17" text-anchor="middle" font-size="15.5">aB</text>
<rect x="753.15" y="1066.25" width="11.0" height="103.55" fill="#212121" stroke="#000" stroke-width="1.2"/><rect x="753.15" y="1181.6" width="11.0" height="24.8" fill="#212121" stroke="#000" stroke-width="1.2"/><line x1="758.65" y1="1066.25" x2="758.65" y2="1053.17" stroke="#111" stroke-width="1.1"/><line x1="750.05" y1="1053.17" x2="767.25" y2="1053.17" stroke="#222" stroke-width="1.3"/><text x="759.05" y="1048.47" text-anchor="middle" font-size="15.5">aC</text>
<text x="481.4" y="911.9" font-weight="bold" font-size="19.5">2020</text>
<text x="748.3000000000001" y="919.7" font-size="19">H.</text>
<text transform="translate(418.7,1142.4) rotate(-90)" x="0" y="0" font-size="19">Zn partioning index<tspan dx="2">(%)</tspan></text>
<text transform="translate(516.35,1228.2) rotate(-30)" x="0" y="6" text-anchor="middle" font-size="18.5">Ctl</text>
<text transform="translate(556.5,1226.7) rotate(-30)" x="0" y="6" text-anchor="middle" font-size="18.5">R</text>
<text transform="translate(594.75,1226.1) rotate(-30)" x="0" y="6" text-anchor="middle" font-size="18.5">R+A</text>
<text transform="translate(631.1,1228.6) rotate(-30)" x="0" y="6" text-anchor="middle" font-size="18.5">R+B</text>
<text transform="translate(666.85,1228.6) rotate(-30)" x="0" y="6" text-anchor="middle" font-size="18.5">R+P</text>
<text transform="translate(708.1,1231.1) rotate(-30)" x="0" y="6" text-anchor="middle" font-size="18.5">R+A+B</text>
<text transform="translate(753.05,1228.4) rotate(-30)" x="0" y="6" text-anchor="middle" font-size="18.5">R+A+P</text>
<text x="588.7" y="1281.9" font-size="19.5">Inoculations</text>
<rect x="554.8" y="12.9" width="43.3" height="15" fill="#e0e0e0" stroke="#000" stroke-width="1.2"/>
<rect x="554.8" y="46.7" width="43.3" height="15.2" fill="#212121" stroke="#000" stroke-width="1.2"/>
<text x="609" y="32.4" font-size="19.6" word-spacing="-1.6">0 kg Zn<tspan dx="1.5"> ha</tspan><tspan font-size="17.5" dy="-10">-1</tspan></text>
<text x="609" y="65.8" font-size="19.6" word-spacing="-1.6">8 kg Zn<tspan dx="1.5"> ha</tspan><tspan font-size="17.5" dy="-10">-1</tspan></text>
</svg>
</body></html>
